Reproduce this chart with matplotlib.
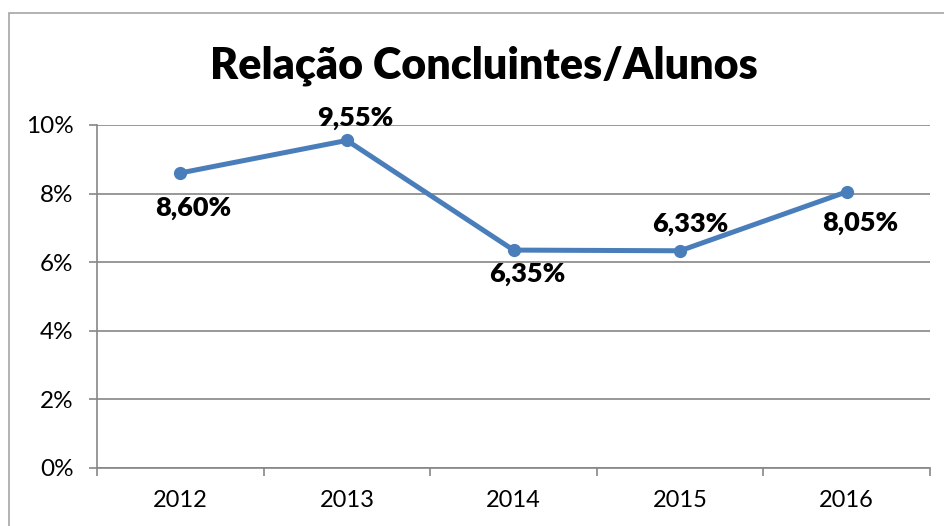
import matplotlib
matplotlib.use("Agg")
import matplotlib.pyplot as plt
from matplotlib.patches import Rectangle
from matplotlib.ticker import FuncFormatter, FixedLocator

plt.rcParams['font.family'] = ['Lato', 'DejaVu Sans']

# dados
anos = ['2012', '2013', '2014', '2015', '2016']
relacao = [8.60, 9.55, 6.35, 6.33, 8.05]   # em %
rotulos = ['8,60%', '9,55%', '6,35%', '6,33%', '8,05%']
# deslocamento dos rotulos (pixels)
offsets = [(13, -35), (8, 22), (14, -24), (10, 27), (13, -31)]

LINE = '#4A7EBB'
GRID = '#868686'

fig = plt.figure(figsize=(9.44, 5.26), dpi=100)
fig.patch.set_facecolor('white')

# moldura do grafico (corta fora da imagem a direita/baixo)
topo = 1 - 13 / 526
fig.patches.append(Rectangle((9 / 944, -0.2), 1.2, topo + 0.2,
                             transform=fig.transFigure, fill=False,
                             edgecolor='#a6a6a6', linewidth=1.2))

ax = fig.add_axes([97 / 944, 1 - 467.7 / 526, 833 / 944, (467.7 - 125) / 526])

x = list(range(len(anos)))
ax.plot(x, relacao, color=LINE, linewidth=3.6, marker='o', markersize=8.5,
        solid_capstyle='round', zorder=3, clip_on=False)

for xi, yi, lab, (dx, dy) in zip(x, relacao, rotulos, offsets):
    ax.annotate(lab, (xi, yi), xytext=(dx, dy), textcoords='offset pixels',
                ha='center', va='center', fontsize=19.5, fontweight='heavy',
                color='black', zorder=4)

ax.set_xlim(-0.5, len(anos) - 0.5)
ax.set_ylim(0, 10)
ax.set_yticks([0, 2, 4, 6, 8, 10])
ax.yaxis.set_major_formatter(FuncFormatter(lambda v, p: f'{v:.0f}%'))
ax.yaxis.grid(True, color=GRID, linewidth=1.2)
ax.set_axisbelow(True)

ax.set_xticks(x)
ax.set_xticklabels(anos)
ax.xaxis.set_minor_locator(FixedLocator([i - 0.5 for i in range(len(anos) + 1)]))
ax.tick_params(axis='x', which='major', length=0, pad=16, labelsize=17)
ax.tick_params(axis='x', which='minor', length=6, width=1.2, color=GRID)
ax.tick_params(axis='y', length=6, width=1.2, color=GRID, pad=11, labelsize=17.5)

for s in ['top', 'right']:
    ax.spines[s].set_visible(False)
for s in ['left', 'bottom']:
    ax.spines[s].set_color(GRID)
    ax.spines[s].set_linewidth(1.2)

fig.text(484 / 944, 1 - 66 / 526, 'Relação Concluintes/Alunos', ha='center',
         va='center', fontsize=31, fontweight='heavy')

fig.savefig('out.png', dpi=100)
